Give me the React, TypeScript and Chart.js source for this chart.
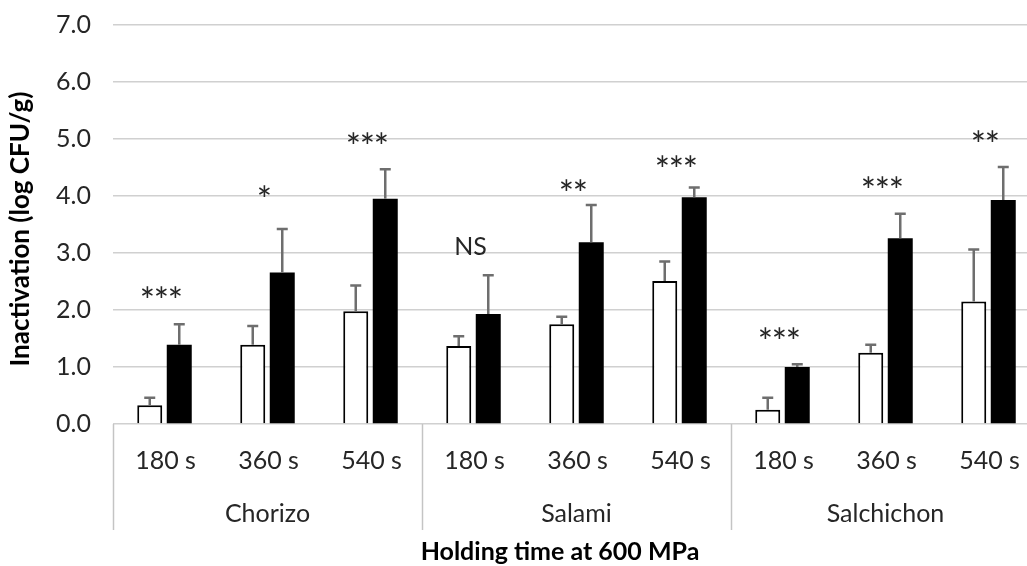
import React, { useEffect, useRef } from "react";
import { Chart, registerables } from "chart.js";

Chart.register(...registerables);

const timeLabels = ["180 s", "360 s", "540 s", "180 s", "360 s", "540 s", "180 s", "360 s", "540 s"];
const productLabels = ["Chorizo", "Salami", "Salchichon"];
const whiteValues = [0.33, 1.39, 1.98, 1.37, 1.75, 2.51, 0.25, 1.25, 2.15];
const whiteErrors = [0.13, 0.33, 0.45, 0.17, 0.13, 0.34, 0.21, 0.14, 0.91];
const blackValues = [1.39, 2.66, 3.95, 1.93, 3.19, 3.98, 1.0, 3.26, 3.93];
const blackErrors = [0.36, 0.76, 0.52, 0.68, 0.65, 0.17, 0.05, 0.43, 0.58];
const sigLabels = ["***", "*", "***", "NS", "**", "***", "***", "***", "**"];
const sigLevels = [2.32, 4.09, 5.01, 3.12, 4.19, 4.61, 1.6, 4.24, 5.06];
const yMin = 0;
const yMax = 7;
const yStep = 1;
const yTitle = "Inactivation (log CFU/g)";
const xTitle = "Holding time at 600 MPa";

const FONT = "Lato";
const TEXT = "#262626";

const CANVAS_W = 1044;
const CANVAS_H = 566;

function drawCentered(ctx: CanvasRenderingContext2D, text: string, x: number, yc: number) {
  const m = ctx.measureText(text);
  const off = (m.actualBoundingBoxAscent - m.actualBoundingBoxDescent) / 2;
  ctx.fillText(text, x, yc + off);
}

const overlayPlugin = {
  id: "overlay",
  afterDatasetsDraw(chart: any) {
    const ctx: CanvasRenderingContext2D = chart.ctx;
    const y = chart.scales.y;
    const errs = [whiteErrors, blackErrors];
    const vals = [whiteValues, blackValues];
    ctx.save();
    ctx.strokeStyle = "#6e6e6e";
    ctx.lineWidth = 2.5;
    for (let d = 0; d < 2; d++) {
      const meta = chart.getDatasetMeta(d);
      meta.data.forEach((bar: any, i: number) => {
        const top = y.getPixelForValue(vals[d][i] + errs[d][i]);
        const base = bar.y;
        ctx.beginPath();
        ctx.moveTo(bar.x, base);
        ctx.lineTo(bar.x, top);
        ctx.moveTo(bar.x - 5.5, top);
        ctx.lineTo(bar.x + 5.5, top);
        ctx.stroke();
      });
    }
    ctx.restore();
  },
  afterDraw(chart: any) {
    const ctx: CanvasRenderingContext2D = chart.ctx;
    const area = chart.chartArea;
    const y = chart.scales.y;
    const m0 = chart.getDatasetMeta(0);
    const m1 = chart.getDatasetMeta(1);
    const catW = (area.right - area.left) / timeLabels.length;
    ctx.save();
    // group dividers
    ctx.strokeStyle = "#c4c4c4";
    ctx.lineWidth = 1.5;
    for (let k = 0; k <= productLabels.length; k++) {
      const x = Math.round(area.left + k * 3 * catW) + 0.5;
      ctx.beginPath();
      ctx.moveTo(x, area.bottom);
      ctx.lineTo(x, 530);
      ctx.stroke();
    }
    // category labels
    ctx.fillStyle = TEXT;
    ctx.textAlign = "center";
    ctx.textBaseline = "alphabetic";
    ctx.font = `25px ${FONT}`;
    timeLabels.forEach((t, i) => {
      const cx = area.left + (i + 0.5) * catW;
      drawCentered(ctx, t, cx + 1, 460);
    });
    productLabels.forEach((p, k) => {
      const cx = area.left + (k * 3 + 1.5) * catW;
      drawCentered(ctx, p, cx, 512);
    });
    // significance labels
    sigLabels.forEach((s, i) => {
      const cx = (m0.data[i].x + m1.data[i].x) / 2 - 3;
      const yc = y.getPixelForValue(sigLevels[i]);
      if (s === "NS") {
        ctx.font = `25px ${FONT}`;
        drawCentered(ctx, s, cx, yc);
      } else {
        ctx.font = `36px ${FONT}`;
        const step = 14;
        const n = s.length;
        for (let j = 0; j < n; j++) {
          const sx = cx + (j - (n - 1) / 2) * step;
          drawCentered(ctx, "*", sx, yc);
        }
      }
    });
    // titles
    ctx.fillStyle = "#000";
    ctx.font = `bold 25px ${FONT}`;
    drawCentered(ctx, xTitle, 560, 552);
    ctx.save();
    ctx.translate(20, 229);
    ctx.rotate(-Math.PI / 2);
    ctx.font = `bold 26px ${FONT}`;
    drawCentered(ctx, yTitle, 0, 0);
    ctx.restore();
    ctx.restore();
  },
};

export default function App() {
  const ref = useRef<HTMLCanvasElement | null>(null);
  useEffect(() => {
    if (!ref.current) return;
    const chart = new Chart(ref.current, {
      type: "bar",
      data: {
        labels: timeLabels,
        datasets: [
          {
            label: "white",
            data: whiteValues,
            backgroundColor: "#ffffff",
            borderColor: "#000000",
            borderWidth: 2,
            barPercentage: 0.847,
            categoryPercentage: 0.573,
          },
          {
            label: "black",
            data: blackValues,
            backgroundColor: "#000000",
            borderColor: "#000000",
            borderWidth: 0,
            barPercentage: 0.847,
            categoryPercentage: 0.573,
          },
        ],
      },
      options: {
        animation: false,
        responsive: false,
        devicePixelRatio: 1,
        layout: { padding: { left: 0, right: CANVAS_W - 1040, top: 25, bottom: CANVAS_H - 424 } },
        plugins: { legend: { display: false }, tooltip: { enabled: false } },
        scales: {
          x: { display: false, offset: true },
          y: {
            min: yMin,
            max: yMax,
            afterFit: (s: any) => {
              s.width = 113;
              s.paddingTop = 0;
              s.paddingBottom = 0;
            },
            border: { display: false },
            grid: { color: "#d0d0d0", lineWidth: 1.5, drawTicks: false },
            ticks: {
              stepSize: yStep,
              padding: 22,
              color: TEXT,
              font: { family: FONT, size: 25 },
              callback: (v: any) => Number(v).toFixed(1),
            },
          },
        },
      },
      plugins: [overlayPlugin],
    } as any);
    return () => chart.destroy();
  }, []);
  return (
    <div style={{ position: "fixed", left: 0, top: 0, width: 1027, height: 566, overflow: "hidden", background: "#fff" }}>
      <canvas ref={ref} width={CANVAS_W} height={CANVAS_H} style={{ display: "block" }} />
    </div>
  );
}
